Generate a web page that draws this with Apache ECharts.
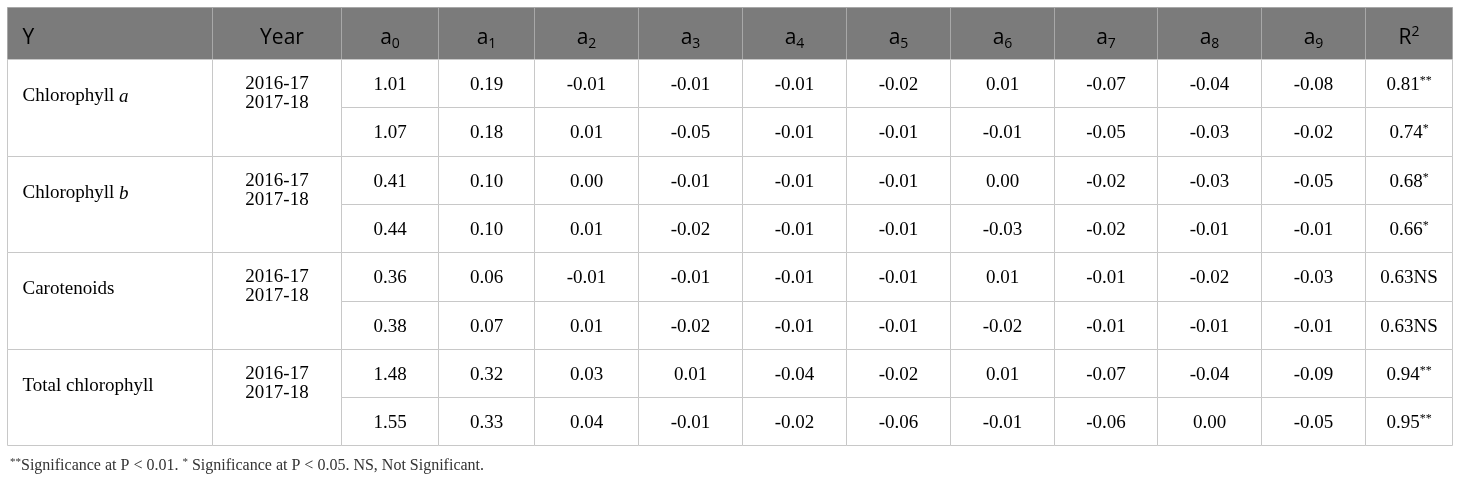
<!DOCTYPE html>
<html>
<head>
<meta charset="utf-8">
<script src="https://cdn.jsdelivr.net/npm/echarts@6/dist/echarts.min.js"></script>
<style>
html, body { margin: 0; background: #fff; }
#main { width: 1460px; height: 483px; }
</style>
</head>
<body>
<div id="main"></div>
<script>
// table content
var groupNames = ['Chlorophyll', 'Chlorophyll', 'Carotenoids', 'Total chlorophyll'];
var groupItalic = ['a', 'b', '', ''];
var years = ['2016-17', '2017-18'];
var coefIdx = ['0', '1', '2', '3', '4', '5', '6', '7', '8', '9'];

// one value per row: Chl a 16-17, 17-18, Chl b .., Carotenoids .., Total ..
var a0 = [1.01, 1.07, 0.41, 0.44, 0.36, 0.38, 1.48, 1.55];
var a1 = [0.19, 0.18, 0.10, 0.10, 0.06, 0.07, 0.32, 0.33];
var a2 = [-0.01, 0.01, 0.00, 0.01, -0.01, 0.01, 0.03, 0.04];
var a3 = [-0.01, -0.05, -0.01, -0.02, -0.01, -0.02, 0.01, -0.01];
var a4 = [-0.01, -0.01, -0.01, -0.01, -0.01, -0.01, -0.04, -0.02];
var a5 = [-0.02, -0.01, -0.01, -0.01, -0.01, -0.01, -0.02, -0.06];
var a6 = [0.01, -0.01, 0.00, -0.03, 0.01, -0.02, 0.01, -0.01];
var a7 = [-0.07, -0.05, -0.02, -0.02, -0.01, -0.01, -0.07, -0.06];
var a8 = [-0.04, -0.03, -0.03, -0.01, -0.02, -0.01, -0.04, 0.00];
var a9 = [-0.08, -0.02, -0.05, -0.01, -0.03, -0.01, -0.09, -0.05];
var r2 = [0.81, 0.74, 0.68, 0.66, 0.63, 0.63, 0.94, 0.95];
var r2Sig = ['**', '*', '*', '*', 'NS', 'NS', '**', '**'];

var footnote = '{st|**}Significance at P < 0.01. {st|*} Significance at P < 0.05. NS, Not Significant.';

// layout
var colWidths = [205, 129.4, 96.6, 96.4, 104, 103.8, 104.2, 103.6, 104, 103.4, 104, 104, 86.6];
var headerH = 52;
var rowH = 48.3;

var colEdges = [0];
colWidths.forEach(function (w, i) { colEdges.push(colEdges[i] + w); });
var totalW = colEdges[colEdges.length - 1];
var totalH = headerH + rowH * 8;

var SERIF = '"Liberation Serif", "DejaVu Serif", serif';
var SANS = '"Open Sans", "Noto Sans", sans-serif';

var headRich = {
  h: { fontFamily: SANS, fontSize: 21, color: '#fff', lineHeight: 26 },
  sub: { fontFamily: SANS, fontSize: 14, color: '#fff', lineHeight: 14, padding: [12, 0, 0, 0] },
  sup: { fontFamily: SANS, fontSize: 14, color: '#fff', lineHeight: 14, padding: [0, 0, 12, 0] }
};
var bodyRich = {
  t: { fontFamily: SERIF, fontSize: 19, color: '#222' },
  i: { fontFamily: SERIF, fontSize: 19, color: '#222', fontStyle: 'italic' },
  st: { fontFamily: SERIF, fontSize: 12, color: '#222', lineHeight: 12, padding: [0, 0, 9, 0] }
};

var cells = [];
function addCell(c0, c1, y0, y1, text, opt) {
  cells.push(Object.assign({ x0: colEdges[c0], x1: colEdges[c1], y0: y0, y1: y1, text: text }, opt || {}));
}

// header
addCell(0, 1, 0, headerH, '{h|Y}', { head: true, align: 'left', dy: 5 });
addCell(1, 2, 0, headerH, '{h|Year}', { head: true, dx: 5, dy: 5 });
coefIdx.forEach(function (k, i) {
  addCell(2 + i, 3 + i, 0, headerH, '{h|a}{sub|' + k + '}', { head: true, dy: 5 });
});
addCell(12, 13, 0, headerH, '{h|R}{sup|2}', { head: true, dy: 5 });

// body
var coefs = [a0, a1, a2, a3, a4, a5, a6, a7, a8, a9];
groupNames.forEach(function (name, g) {
  var gy = headerH + g * 2 * rowH;
  var label = '{t|' + name + '}' + (groupItalic[g] ? '{t| }{i|' + groupItalic[g] + '}' : '');
  addCell(0, 1, gy, gy + 2 * rowH, label, { align: 'left', ty: 37 });
  addCell(1, 2, gy, gy + 2 * rowH, '{t|' + years[0] + '}\n{t|' + years[1] + '}', { ty: 34.5 });
  for (var r = 0; r < 2; r++) {
    var row = g * 2 + r;
    var y0 = gy + r * rowH;
    coefs.forEach(function (arr, i) {
      addCell(2 + i, 3 + i, y0, y0 + rowH, '{t|' + arr[row].toFixed(2) + '}', { dy: 1.5 });
    });
    var sig = r2Sig[row] === 'NS' ? '{t|NS}' : '{st|' + r2Sig[row] + '}';
    addCell(12, 13, y0, y0 + rowH, '{t|' + r2[row].toFixed(2) + '}' + sig, { dy: 1.5 });
  }
});

function snap(v) { return Math.round(v) + 0.5; }

var chart = echarts.init(document.getElementById('main'));
chart.setOption({
  animation: false,
  title: {
    text: footnote,
    left: 5,
    top: 453,
    textStyle: {
      fontFamily: SERIF, fontSize: 16, color: '#333', fontWeight: 'normal',
      rich: {
        st: { fontFamily: SERIF, fontSize: 11, color: '#333', lineHeight: 11, padding: [0, 0, 8, 0] }
      }
    }
  },
  grid: { left: 7, top: 7, width: totalW, height: totalH },
  xAxis: { type: 'value', min: 0, max: totalW, show: false },
  yAxis: { type: 'value', min: 0, max: totalH, inverse: true, show: false },
  series: [{
    type: 'custom',
    data: cells.map(function (c, i) { return [c.x0, c.y0, i]; }),
    renderItem: function (params, api) {
      var c = cells[api.value(2)];
      var p0 = api.coord([c.x0, c.y0]);
      var p1 = api.coord([c.x1, c.y1]);
      var x0 = snap(p0[0]), y0 = snap(p0[1]), x1 = snap(p1[0]), y1 = snap(p1[1]);
      var tx = c.align === 'left' ? x0 + 15 : (x0 + x1) / 2 + (c.dx || 0);
      var ty = c.ty ? y0 + c.ty : (y0 + y1) / 2 + (c.dy || 0);
      return {
        type: 'group',
        children: [{
          type: 'rect',
          shape: { x: x0, y: y0, width: x1 - x0, height: y1 - y0 },
          style: { fill: c.head ? '#7b7b7b' : '#fff', stroke: c.head ? '#a8a8a8' : '#c8c8c8', lineWidth: 1 }
        }, {
          type: 'text',
          x: tx,
          y: ty,
          style: {
            text: c.text,
            rich: c.head ? headRich : bodyRich,
            align: c.align === 'left' ? 'left' : 'center',
            verticalAlign: 'middle',
            lineHeight: 19
          }
        }]
      };
    }
  }]
});
</script>
</body>
</html>
